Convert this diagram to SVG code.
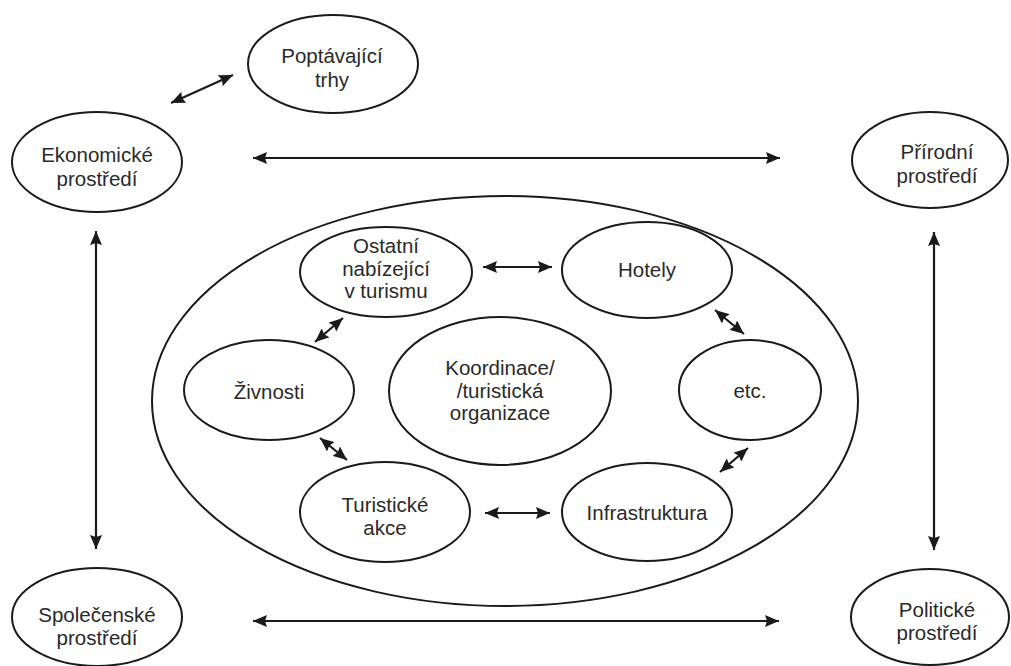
<svg xmlns="http://www.w3.org/2000/svg" width="1011" height="666" viewBox="0 0 1011 666">
<defs>
<marker id="ah" viewBox="0 0 14 12" refX="14" refY="6" markerWidth="14" markerHeight="12" markerUnits="userSpaceOnUse" orient="auto-start-reverse">
<path d="M0,0 L14,6 L0,12 L2,6 Z" fill="#1a1a1a"/>
</marker>
</defs>
<style>
.n ellipse{fill:#fff;stroke:#1a1a1a;stroke-width:2}
.n text{font-family:"Liberation Sans",Arial,sans-serif;font-size:20.5px;fill:#2a2a2a;text-anchor:middle}
#connectors line{stroke:#1a1a1a;stroke-width:2.2;marker-start:url(#ah);marker-end:url(#ah)}
</style>
<rect width="1011" height="666" fill="#fff"/>
<g id="destination" class="n"><ellipse cx="505" cy="401" rx="353" ry="205"/></g>
<g id="poptavajici" class="n"><ellipse cx="333" cy="64" rx="85" ry="49"/><text x="332" y="63">Poptávající</text><text x="332" y="87">trhy</text></g>
<g id="ekonomicke" class="n"><ellipse cx="97" cy="162" rx="85" ry="50"/><text x="97" y="162">Ekonomické</text><text x="97" y="186">prostředí</text></g>
<g id="prirodni" class="n"><ellipse cx="930" cy="160" rx="78" ry="48"/><text x="937" y="159">Přírodní</text><text x="937" y="183">prostředí</text></g>
<g id="spolecenske" class="n"><ellipse cx="97" cy="617" rx="85" ry="49"/><text x="97" y="622">Společenské</text><text x="97" y="645">prostředí</text></g>
<g id="politicke" class="n"><ellipse cx="930" cy="617" rx="79" ry="48"/><text x="937" y="617">Politické</text><text x="937" y="640">prostředí</text></g>
<g id="ostatni" class="n"><ellipse cx="386" cy="272" rx="86" ry="45"/><text x="386" y="253">Ostatní</text><text x="386" y="276">nabízející</text><text x="386" y="298">v turismu</text></g>
<g id="hotely" class="n"><ellipse cx="647" cy="270" rx="85" ry="48"/><text x="647" y="277">Hotely</text></g>
<g id="etc" class="n"><ellipse cx="750" cy="390" rx="71" ry="50"/><text x="750" y="398">etc.</text></g>
<g id="zivnosti" class="n"><ellipse cx="269" cy="390" rx="85" ry="50"/><text x="269" y="399">Živnosti</text></g>
<g id="koordinace" class="n"><ellipse cx="500" cy="391" rx="111" ry="74"/><text x="500" y="375">Koordinace/</text><text x="500" y="398">/turistická</text><text x="500" y="420">organizace</text></g>
<g id="turisticke" class="n"><ellipse cx="385" cy="512" rx="85" ry="50"/><text x="385" y="512">Turistické</text><text x="385" y="535">akce</text></g>
<g id="infrastruktura" class="n"><ellipse cx="647" cy="512" rx="85" ry="49"/><text x="647" y="520">Infrastruktura</text></g>
<g id="connectors">
<line x1="171" y1="103" x2="233" y2="75"/>
<line x1="253" y1="158" x2="780" y2="158"/>
<line x1="253" y1="621" x2="779" y2="621"/>
<line x1="96" y1="231" x2="96" y2="549"/>
<line x1="934" y1="232" x2="934" y2="550"/>
<line x1="483" y1="267" x2="552" y2="267"/>
<line x1="315" y1="342" x2="343" y2="318"/>
<line x1="715" y1="310" x2="744" y2="334"/>
<line x1="748" y1="448" x2="720" y2="472"/>
<line x1="320" y1="438" x2="347" y2="460"/>
<line x1="485" y1="513" x2="550" y2="513"/>
</g>
</svg>
